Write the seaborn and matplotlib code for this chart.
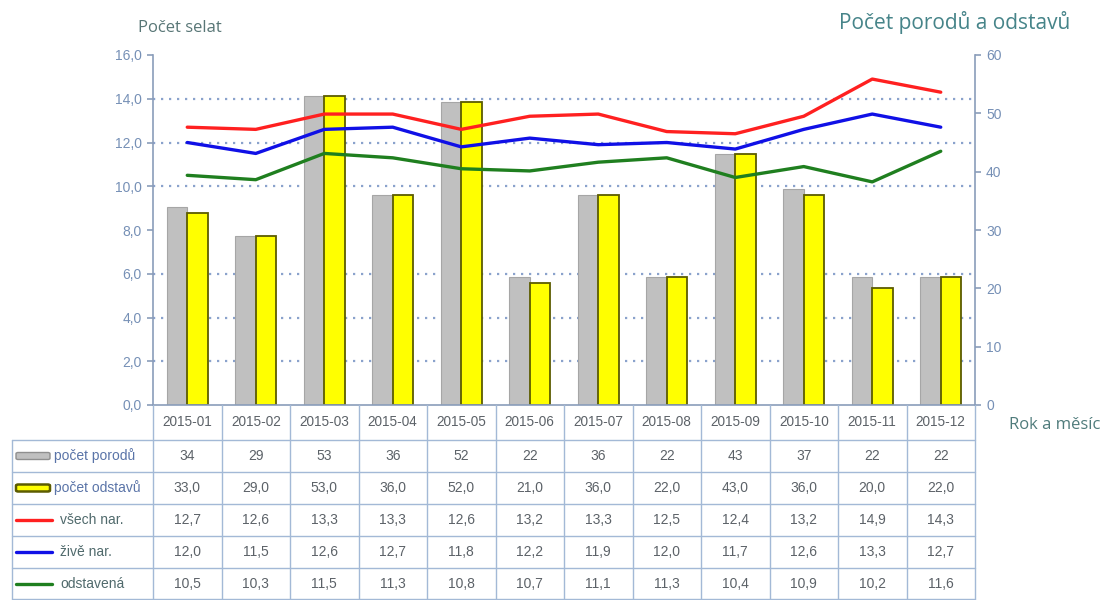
import numpy as np
import pandas as pd
import matplotlib
matplotlib.use("Agg")
import matplotlib.pyplot as plt
import matplotlib.transforms as mtransforms
from matplotlib.patches import FancyBboxPatch
from matplotlib.lines import Line2D
from matplotlib import font_manager
import seaborn as sns

# ---- data -------------------------------------------------------------
mesice = ["2015-01", "2015-02", "2015-03", "2015-04", "2015-05", "2015-06",
          "2015-07", "2015-08", "2015-09", "2015-10", "2015-11", "2015-12"]
pocet_porodu = [34, 29, 53, 36, 52, 22, 36, 22, 43, 37, 22, 22]
pocet_odstavu = [33.0, 29.0, 53.0, 36.0, 52.0, 21.0, 36.0, 22.0, 43.0, 36.0, 20.0, 22.0]
vsech_nar = [12.7, 12.6, 13.3, 13.3, 12.6, 13.2, 13.3, 12.5, 12.4, 13.2, 14.9, 14.3]
zive_nar = [12.0, 11.5, 12.6, 12.7, 11.8, 12.2, 11.9, 12.0, 11.7, 12.6, 13.3, 12.7]
odstavena = [10.5, 10.3, 11.5, 11.3, 10.8, 10.7, 11.1, 11.3, 10.4, 10.9, 10.2, 11.6]

left_ticks = [0, 2, 4, 6, 8, 10, 12, 14, 16]
right_ticks = [0, 10, 20, 30, 40, 50, 60]

bar_names = ["počet porodů", "počet odstavů"]
line_names = ["všech nar.", "živě nar.", "odstavená"]

# ---- style ------------------------------------------------------------
sns.set_theme(style="white")


def pick_font(candidates):
    for name in candidates:
        try:
            font_manager.findfont(font_manager.FontProperties(family=name),
                                  fallback_to_default=False)
            return name
        except Exception:
            continue
    return "DejaVu Sans"


body_font = pick_font(["Liberation Sans", "Arial", "DejaVu Sans"])
title_font = pick_font(["Open Sans", "Noto Sans", "DejaVu Sans"])
plt.rcParams["font.family"] = [body_font, "DejaVu Sans"]

GRAY = "#c0c0c0"
GRAY_EDGE = "#a6a6a6"
YELLOW = "#ffff00"
YELLOW_EDGE = "#5c5c00"
RED = "#ff2020"
BLUE = "#1010e6"
GREEN = "#1f7f1f"
AXIS_C = "#8a9dba"
TICK_C = "#7690b6"
GRID_C = "#8aa2cc"
TABLE_C = "#a3b9d6"
TEXT_C = "#5c6268"

W, H = 1104, 600
fig = plt.figure(figsize=(W / 100, H / 100), dpi=100)


def fx(px):
    return px / W


def fy(py):
    return 1 - py / H


ax_left, ax_right, ax_top, ax_bottom = 153, 975, 55, 405
axl = fig.add_axes([fx(ax_left), fy(ax_bottom), fx(ax_right - ax_left),
                    (ax_bottom - ax_top) / H])
axb = axl.twinx()

# ---- bars (right scale) ----------------------------------------------
bars_df = pd.DataFrame({
    "mesic": mesice * 2,
    "pocet": pocet_porodu + pocet_odstavu,
    "rada": [bar_names[0]] * len(mesice) + [bar_names[1]] * len(mesice),
})
sns.barplot(data=bars_df, x="mesic", y="pocet", hue="rada", order=mesice,
            hue_order=bar_names, palette=[GRAY, YELLOW], saturation=1,
            width=0.6, ax=axb, legend=False)
for patch in axb.containers[0]:
    patch.set_edgecolor(GRAY_EDGE)
    patch.set_linewidth(0.8)
for patch in axb.containers[1]:
    patch.set_edgecolor(YELLOW_EDGE)
    patch.set_linewidth(1.3)

axb.set_ylim(0, 60)
axb.set_yticks(right_ticks)
axb.set_yticklabels([str(t) for t in right_ticks])
# dotted grid at the left-scale steps, drawn underneath the bars
axb.set_yticks(np.array(left_ticks[1:-1]) * 60 / 16, minor=True)
axb.yaxis.grid(True, which="minor", color=GRID_C, linestyle=(0, (1, 2.6)),
               linewidth=1.6)
axb.yaxis.grid(False, which="major")
axb.set_axisbelow(True)
axb.tick_params(axis="y", which="minor", length=0)

# ---- lines (left scale) ----------------------------------------------
for vals, col in zip([vsech_nar, zive_nar, odstavena], [RED, BLUE, GREEN]):
    sns.lineplot(x=mesice, y=vals, color=col, linewidth=2.4, sort=False, ax=axl)

axl.set_ylim(0, 16)
axl.set_yticks(left_ticks)
axl.set_yticklabels([f"{t:.1f}".replace(".", ",") for t in left_ticks])
axl.set_xlim(-0.5, len(mesice) - 0.5)
axb.set_xlim(-0.5, len(mesice) - 0.5)

axl.set_zorder(axb.get_zorder() + 1)
axl.patch.set_visible(False)

for a in (axl, axb):
    a.set_xlabel("")
    a.set_ylabel("")
    a.tick_params(axis="x", length=0, labelbottom=False)
    for s in a.spines.values():
        s.set_visible(False)

axl.spines["left"].set_visible(True)
axl.spines["left"].set_color(AXIS_C)
axl.spines["bottom"].set_visible(True)
axl.spines["bottom"].set_color(AXIS_C)
axb.spines["right"].set_visible(True)
axb.spines["right"].set_color(AXIS_C)
for s in ("left", "bottom"):
    axl.spines[s].set_linewidth(1.2)
axb.spines["right"].set_linewidth(1.2)

axl.tick_params(axis="y", which="major", left=True, length=4, width=1.2,
                color=AXIS_C, labelcolor=TICK_C, labelsize=10, pad=4)
axb.tick_params(axis="y", which="major", right=True, length=4, width=1.2,
                color=AXIS_C, labelcolor=TICK_C, labelsize=10, pad=4)

# ---- axis titles -----------------------------------------------------
fig.text(fx(180), fy(28), "Počet selat", ha="center", va="center",
         fontsize=12, color="#587676", family=[title_font, "DejaVu Sans"])
fig.text(fx(955), fy(22), "Počet porodů a odstavů", ha="center", va="center",
         fontsize=15, color="#468489", family=[title_font, "DejaVu Sans"])
fig.text(fx(1055), fy(425), "Rok a měsíc", ha="center", va="center",
         fontsize=12, color="#4f7b7b", family=[title_font, "DejaVu Sans"])

# ---- data table under the chart --------------------------------------
trans = mtransforms.blended_transform_factory(axl.transData, fig.transFigure)
n = len(mesice)
header_bottom = 440
row_edges = [440, 472, 504, 536, 568, 599]
legend_left = 12

# vertical separators between months
for i in range(n + 1):
    fig.add_artist(Line2D([i - 0.5, i - 0.5], [fy(ax_bottom), fy(599)],
                          transform=trans, color=TABLE_C, linewidth=1.0,
                          clip_on=False))
# left border of the legend column
fig.add_artist(Line2D([fx(legend_left)] * 2, [fy(header_bottom), fy(599)],
                      transform=fig.transFigure, color=TABLE_C, linewidth=1.0))
# horizontal row lines
for py in row_edges:
    fig.add_artist(Line2D([fx(legend_left), fx(ax_right)], [fy(py), fy(py)],
                          transform=fig.transFigure, color=TABLE_C,
                          linewidth=1.0))

# month header
for i, m in enumerate(mesice):
    fig.text(i, fy((ax_bottom + header_bottom) / 2), m, transform=trans,
             ha="center", va="center", fontsize=9.8, color=TEXT_C)

rows = [
    [str(v) for v in pocet_porodu],
    [f"{v:.1f}".replace(".", ",") for v in pocet_odstavu],
    [f"{v:.1f}".replace(".", ",") for v in vsech_nar],
    [f"{v:.1f}".replace(".", ",") for v in zive_nar],
    [f"{v:.1f}".replace(".", ",") for v in odstavena],
]
for r, cells in enumerate(rows):
    cy = fy((row_edges[r] + row_edges[r + 1]) / 2)
    for i, s in enumerate(cells):
        fig.text(i, cy, s, transform=trans, ha="center", va="center",
                 fontsize=10, color=TEXT_C)

# legend keys in the first column
bar_styles = [(GRAY, "#8f8f8f", 1.0), (YELLOW, YELLOW_EDGE, 1.8)]
for r, (name, (fc, ec, lw)) in enumerate(zip(bar_names, bar_styles)):
    cy_px = (row_edges[r] + row_edges[r + 1]) / 2
    fig.add_artist(FancyBboxPatch((fx(16), fy(cy_px + 3.5)), fx(34), 7 / H,
                                  boxstyle="round,pad=0,rounding_size=0.002",
                                  transform=fig.transFigure, facecolor=fc,
                                  edgecolor=ec, linewidth=lw))
    fig.text(fx(54), fy(cy_px), name, ha="left", va="center", fontsize=10,
             color="#5a74a8")

for k, (name, col) in enumerate(zip(line_names, [RED, BLUE, GREEN])):
    r = k + 2
    cy_px = (row_edges[r] + row_edges[r + 1]) / 2
    fig.add_artist(Line2D([fx(16), fx(52)], [fy(cy_px), fy(cy_px)],
                          transform=fig.transFigure, color=col, linewidth=2.4))
    fig.text(fx(60), fy(cy_px), name, ha="left", va="center", fontsize=10,
             color="#506a6c")

fig.savefig("out.png", dpi=100, facecolor="white")
